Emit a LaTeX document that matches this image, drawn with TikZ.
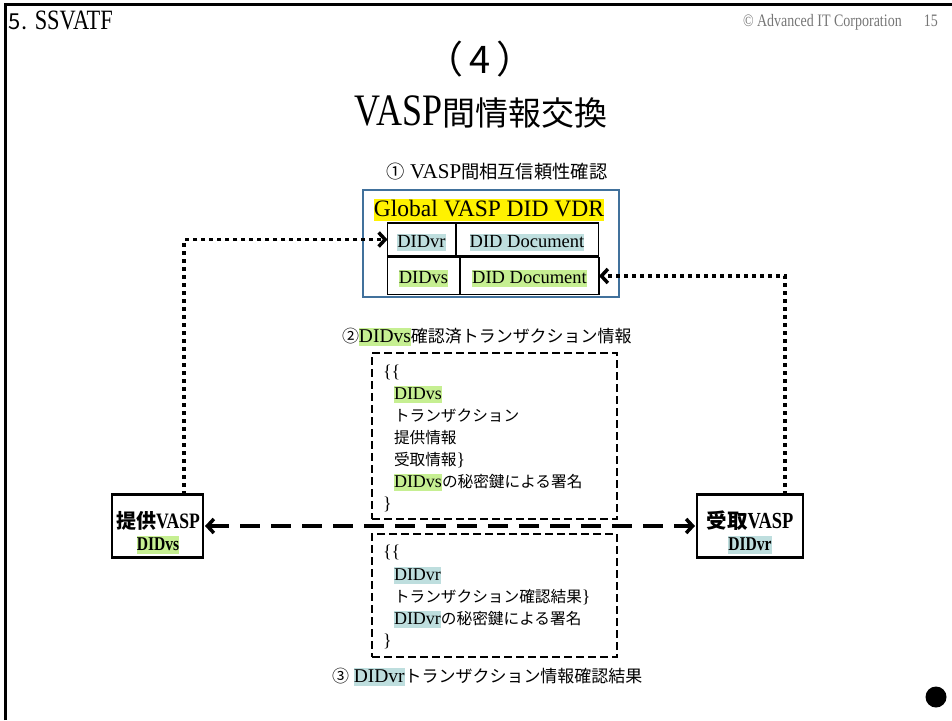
\documentclass[tikz,border=0pt]{standalone}
\usepackage{fontspec}
\setmainfont{Liberation Serif}
\newfontfamily\jp[Scale=0.87]{Noto Sans CJK JP}
\newfontfamily\jpn{Noto Sans CJK JP}
\newfontfamily\serifc[FakeStretch=0.8]{Liberation Serif}
\usetikzlibrary{arrows.meta,calc}
\definecolor{hlgreen}{RGB}{198,239,146}
\definecolor{hlblue}{RGB}{190,222,222}
\definecolor{vdrblue}{RGB}{65,113,156}
\definecolor{copygray}{RGB}{118,118,118}
\newcommand\hstrut{\rule[-0.2em]{0pt}{0.92em}}
\newcommand\HLG[1]{{\setlength{\fboxsep}{0pt}\colorbox{hlgreen}{\hstrut #1}}}
\newcommand\HLB[1]{{\setlength{\fboxsep}{0pt}\colorbox{hlblue}{\hstrut #1}}}
\newcommand\HLY[1]{{\setlength{\fboxsep}{0pt}\colorbox{yellow}{\hstrut #1}}}
\newcommand\J[1]{{\jp #1}}
\begin{document}
\begin{tikzpicture}[x=1pt,y=-1pt,
  every node/.style={inner sep=0pt, outer sep=0pt},
  txt/.style={anchor=base west, font=\fontsize{18}{22}\selectfont},
  rowtxt/.style={anchor=base, font=\fontsize{18.5}{22}\selectfont},
  lbltxt/.style={font=\fontsize{19.5}{22}\selectfont},
  dashbox/.style={draw, line width=2.5pt, dash pattern=on 8pt off 4pt, anchor=north west},
  rowbox/.style={draw, line width=1.3pt, anchor=north west},
  vaspbox/.style={draw, line width=2.5pt, anchor=north west},
  dotarr/.style={line width=3.5pt, dash pattern=on 3.5pt off 4.5pt, -{Straight Barb[length=6.5pt,width=14pt]}},
  dasharr/.style={line width=3.5pt, dash pattern=on 20pt off 11pt, {Straight Barb[length=6.5pt,width=14pt]}-{Straight Barb[length=6.5pt,width=14pt]}},
]
\useasboundingbox (0,0) rectangle (952,720);
\draw[line width=3pt] (5.5,720) -- (5.5,4.5) -- (952,4.5);

% header
\node[anchor=base west, font=\serifc\fontsize{28}{30}\selectfont] (sec) at (9,29) {{\jpn\fontsize{22}{26}\selectfont 5.} SSVATF};
\node[anchor=base west, text=copygray, font=\serifc\fontsize{17.5}{20}\selectfont] (copy) at (743,27) {© Advanced IT Corporation\hspace{22pt}15};
\node[anchor=base, font=\jpn\fontsize{38}{42}\selectfont] (t1) at (480,73) {（\hspace{6pt}4\hspace{6pt}）};
\node[anchor=base] (t2) at (481,125) {{\serifc\fontsize{45}{48}\selectfont VASP}{\jpn\fontsize{33}{36}\selectfont 間情報交換}};

% VDR
\node[anchor=base, font=\fontsize{21}{24}\selectfont] (l1) at (497,178) {\J{①} VASP\J{間相互信頼性確認}};
\node[draw=vdrblue, line width=2pt, minimum width=256pt, minimum height=107pt, anchor=north west] (vdr) at (363,190) {};
\node[anchor=base, font=\fontsize{23.5}{27}\selectfont] (glob) at (489,216) {\HLY{Global VASP DID VDR}};
\node[rowbox, minimum width=211pt, minimum height=33pt] (r1) at (387.5,223) {};
\draw[line width=1.3pt] ([xshift=68.5pt]r1.north west) -- ([xshift=68.5pt]r1.south west);
\node[rowtxt] (r1a) at (421.5,247) {\HLB{DIDvr}};
\node[rowtxt] (r1b) at (527,247) {\HLB{DID Document}};
\node[rowbox, minimum width=211.5pt, minimum height=37pt] (r2) at (387.5,257.5) {};
\draw[line width=1.3pt] ([xshift=72.5pt]r2.north west) -- ([xshift=72.5pt]r2.south west);
\node[rowtxt] (r2a) at (423.5,283) {\HLG{DIDvs}};
\node[rowtxt] (r2b) at (529.5,283) {\HLG{DID Document}};

% box 1
\node[anchor=base west, lbltxt] (l2) at (342,342) {\J{②}\HLG{DIDvs}\J{確認済トランザクション情報}};
\node[dashbox, minimum width=245pt, minimum height=166pt] (box1) at (372,353) {};
\node[txt] (b1a) at (383,377) {\{\{};
\node[txt] (b1b) at (394,399) {\HLG{DIDvs}};
\node[txt] (b1c) at (394,421) {\J{トランザクション}};
\node[txt] (b1d) at (394,443) {\J{提供情報}};
\node[txt] (b1e) at (394,465) {\J{受取情報}\}};
\node[txt] (b1f) at (394,487) {\HLG{DIDvs}\J{の秘密鍵による署名}};
\node[txt] (b1g) at (383,509) {\}};

% box 2
\node[dashbox, minimum width=245pt, minimum height=123pt] (box2) at (372,534) {};
\node[txt] (b2a) at (383,557) {\{\{};
\node[txt] (b2b) at (394,580) {\HLB{DIDvr}};
\node[txt] (b2c) at (394,602) {\J{トランザクション確認結果}\}};
\node[txt] (b2d) at (394,624) {\HLB{DIDvr}\J{の秘密鍵による署名}};
\node[txt] (b2e) at (383,646) {\}};
\node[anchor=base west, lbltxt] (l3) at (332,682) {\J{③} \HLB{DIDvr}\J{トランザクション情報確認結果}};

% VASP nodes
\node[vaspbox, minimum width=91pt, minimum height=63pt] (prov) at (112,494.5) {};
\node[anchor=base] (provt) at (158,528) {{\jpn\bfseries\fontsize{20}{22}\selectfont 提供}{\serifc\bfseries\fontsize{22}{24}\selectfont VASP}};
\node[anchor=base, font=\serifc\bfseries\fontsize{19.5}{22}\selectfont] (provd) at (158,550) {\HLG{DIDvs}};
\node[vaspbox, minimum width=106pt, minimum height=63pt] (recv) at (697,494.5) {};
\node[anchor=base] (recvt) at (750,528) {{\jpn\bfseries\fontsize{20.5}{22}\selectfont 受取}{\serifc\bfseries\fontsize{23}{24}\selectfont VASP}};
\node[anchor=base, font=\serifc\bfseries\fontsize{19.5}{22}\selectfont] (recvd) at (750,550) {\HLB{DIDvr}};

% connectors
\draw[dotarr] ([xshift=72pt]prov.north west) |- (r1.west);
\draw[dotarr] ([xshift=-18pt]recv.north east) |- (r2.east);
\draw[dasharr] ([xshift=2pt]prov.east) -- ([xshift=-2pt]recv.west);

\node[circle, fill, minimum size=21pt] (dot) at (936,697) {};
\end{tikzpicture}
\end{document}
